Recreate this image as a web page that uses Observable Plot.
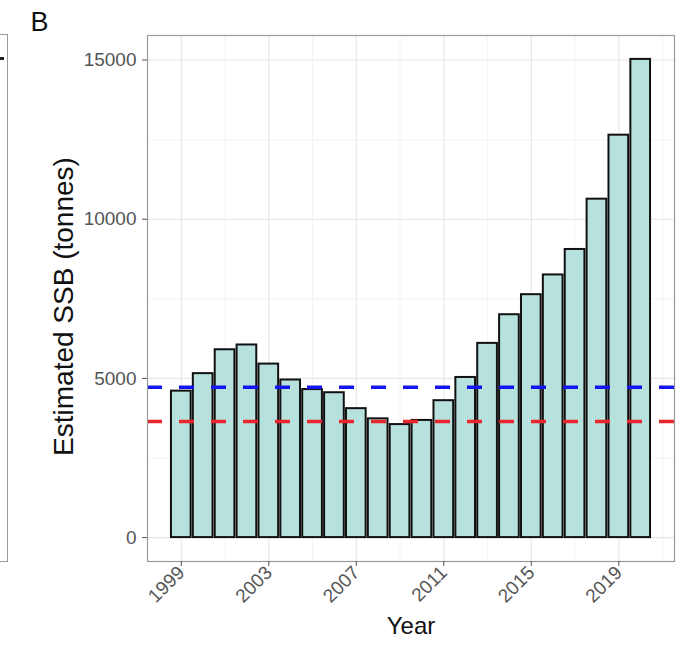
<!DOCTYPE html>
<html>
<head>
<meta charset="utf-8">
<script src="https://cdn.jsdelivr.net/npm/d3@7"></script>
<script src="https://cdn.jsdelivr.net/npm/@observablehq/plot@0.6"></script>
<style>
  body { margin: 0; background: #fff; }
  #wrap { position: relative; width: 689px; height: 646px; }
  /* right edge of the neighbouring panel A */
  #panelA { position: absolute; left: 0; top: 34px; width: 8px; height: 528px;
            border: 1px solid #9a9a9a; border-left: none; box-sizing: border-box; }
  #panelA .mark { position: absolute; left: 0; top: 22px; width: 4px; height: 3px; background: #222; }
  #chart { position: absolute; left: 0; top: 0; }
</style>
</head>
<body>
<div id="wrap"><div id="panelA"><div class="mark"></div></div><div id="chart"></div></div>
<script>
// Spawning stock biomass estimates by year
const years = [1999, 2000, 2001, 2002, 2003, 2004, 2005, 2006, 2007, 2008, 2009,
               2010, 2011, 2012, 2013, 2014, 2015, 2016, 2017, 2018, 2019, 2020];
const ssb   = [4600, 5150, 5900, 6050, 5450, 4950, 4650, 4550, 4050, 3730, 3550,
               3680, 4300, 5030, 6100, 7000, 7630, 8250, 9050, 10630, 12640, 15020];

// Reference points (dashed lines)
const refBlue = [4720];
const refRed  = [3650];

// Axis ticks and grid breaks
const yTicks = [0, 5000, 10000, 15000];
const yMinor = [2500, 7500, 12500];
const xTicks = [1999, 2003, 2007, 2011, 2015, 2019];
const xMinor = [2001, 2005, 2009, 2013, 2017, 2021];

const data = years.map((year, i) => ({year, ssb: ssb[i]}));

// ggplot-like 5% expansion around the bar extents
const halfW = 0.45;
const xLo = d3.min(years) - halfW, xHi = d3.max(years) + halfW;
const xPad = 0.05 * (xHi - xLo);
const yHi = d3.max(ssb), yPad = 0.05 * yHi;

const chart = Plot.plot({
  width: 689,
  height: 646,
  marginLeft: 147,
  marginRight: 15,
  marginTop: 35,
  marginBottom: 85,
  style: {fontFamily: "'Liberation Sans', Arial, sans-serif", background: "transparent"},
  x: {domain: [xLo - xPad, xHi + xPad]},
  y: {domain: [-yPad, yHi + yPad]},
  marks: [
    Plot.gridX(xMinor, {stroke: "#eeeeee", strokeOpacity: 1, strokeWidth: 0.7}),
    Plot.gridY(yMinor, {stroke: "#eeeeee", strokeOpacity: 1, strokeWidth: 0.7}),
    Plot.gridX(xTicks, {stroke: "#e6e6e6", strokeOpacity: 1, strokeWidth: 1.1}),
    Plot.gridY(yTicks, {stroke: "#e6e6e6", strokeOpacity: 1, strokeWidth: 1.1}),
    Plot.rectY(data, {
      x1: d => d.year - halfW,
      x2: d => d.year + halfW,
      y: "ssb",
      fill: "#b6e1dc",
      stroke: "#111",
      strokeWidth: 2
    }),
    Plot.ruleY(refBlue, {stroke: "#1414f0", strokeWidth: 3.5, strokeDasharray: "15,17"}),
    Plot.ruleY(refRed, {stroke: "#e8252c", strokeWidth: 3.5, strokeDasharray: "15,17"}),
    Plot.frame({stroke: "#9a9a9a", strokeWidth: 1.2}),
    Plot.axisY(yTicks, {
      tickSize: 5, tickPadding: 6, fontSize: 19, color: "#555",
      tickFormat: d => String(d), label: null
    }),
    Plot.axisX(xTicks, {
      tickSize: 5, tickPadding: 3, fontSize: 19, color: "#555", tickRotate: -45,
      tickFormat: d => String(d), label: null
    }),
    Plot.text(["Estimated SSB (tonnes)"], {
      text: d => d, frameAnchor: "left", textAnchor: "middle", rotate: -90,
      dx: -83, dy: 8, fontSize: 28, fill: "#111"
    }),
    Plot.text(["Year"], {text: d => d, frameAnchor: "bottom", dy: 72, fontSize: 24, fill: "#111"}),
    Plot.text(["B"], {
      text: d => d, frameAnchor: "top-left", textAnchor: "middle",
      dx: -108, dy: -24, fontSize: 27, fill: "#111"
    })
  ]
});

document.getElementById("chart").appendChild(chart);
</script>
</body>
</html>
